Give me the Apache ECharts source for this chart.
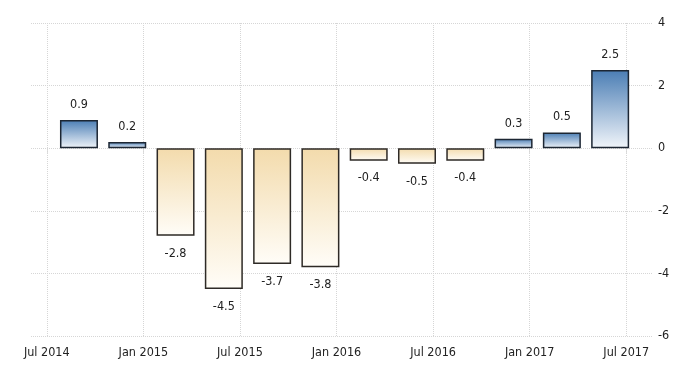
<!DOCTYPE html>
<html>
<head>
<meta charset="utf-8">
<script src="https://cdn.jsdelivr.net/npm/echarts@6/dist/echarts.min.js"></script>
<style>
html,body{margin:0;padding:0;background:#fff;}
#chart{width:700px;height:375px;}
</style>
</head>
<body>
<div id="chart"></div>
<script>
// Quarterly observations (year-month of each bar)
var quarters = ['2014-09','2014-12','2015-03','2015-06','2015-09','2015-12','2016-03','2016-06','2016-09','2016-12','2017-03','2017-06'];
var values = [0.9, 0.2, -2.8, -4.5, -3.7, -3.8, -0.4, -0.5, -0.4, 0.3, 0.5, 2.5];
// X tick labels and the months they mark
var xTickMonths = ['2014-07','2015-01','2015-07','2016-01','2016-07','2017-01','2017-07'];
var xTickLabels = ['Jul 2014','Jan 2015','Jul 2015','Jan 2016','Jul 2016','Jan 2017','Jul 2017'];
// Y ticks
var yMin = -6, yMax = 4, yStep = 2;

function monthIndex(s) {
  var p = s.split('-');
  return (parseInt(p[0], 10) - 2014) * 12 + (parseInt(p[1], 10) - 1);
}
var tickVals = xTickMonths.map(monthIndex);

var FONT = "'DejaVu Sans Condensed','Liberation Sans Narrow',sans-serif";

var posGrad = new echarts.graphic.LinearGradient(0, 0, 0, 1, [
  {offset: 0, color: '#4a7db4'},
  {offset: 1, color: '#f1f5fa'}
]);
var negGrad = new echarts.graphic.LinearGradient(0, 0, 0, 1, [
  {offset: 0, color: '#f3dbac'},
  {offset: 1, color: '#fffdf8'}
]);

var data = quarters.map(function (q, i) {
  var v = values[i];
  var pos = v >= 0;
  return {
    value: [monthIndex(q), v],
    itemStyle: {color: pos ? posGrad : negGrad, borderColor: pos ? '#1c2633' : '#2e2a26'},
    label: {position: pos ? 'top' : 'bottom', distance: pos ? 9 : 11}
  };
});

var chart = echarts.init(document.getElementById('chart'), null, {renderer: 'canvas'});
chart.setOption({
  animation: false,
  backgroundColor: '#ffffff',
  grid: {left: 31, right: 48, top: 23, bottom: 39, containLabel: false},
  xAxis: {
    type: 'value',
    min: 5.02,
    max: 43.6,
    axisLine: {show: false},
    axisTick: {show: true, length: 5, customValues: tickVals, lineStyle: {color: '#d6d6d6', type: 'dotted'}},
    splitLine: {show: true, lineStyle: {color: '#d6d6d6', type: 'dotted', width: 1}},
    axisLabel: {
      customValues: tickVals,
      margin: 10,
      color: '#222',
      fontFamily: FONT,
      fontSize: 12.5,
      formatter: function (v) {
        var k = tickVals.indexOf(Math.round(v));
        return k >= 0 ? xTickLabels[k] : '';
      }
    }
  },
  yAxis: {
    type: 'value',
    position: 'right',
    min: yMin,
    max: yMax,
    interval: yStep,
    axisLine: {show: false},
    axisTick: {show: false},
    splitLine: {show: true, lineStyle: {color: '#d6d6d6', type: 'dotted', width: 1}},
    axisLabel: {margin: 6, color: '#222', fontFamily: FONT, fontSize: 12.5}
  },
  series: [{
    type: 'bar',
    barWidth: 38,
    data: data,
    itemStyle: {borderWidth: 1.5},
    label: {
      show: true,
      color: '#222',
      fontFamily: FONT,
      fontSize: 12.5,
      formatter: function (p) { return p.value[1].toFixed(1); }
    }
  }]
});
</script>
</body>
</html>
